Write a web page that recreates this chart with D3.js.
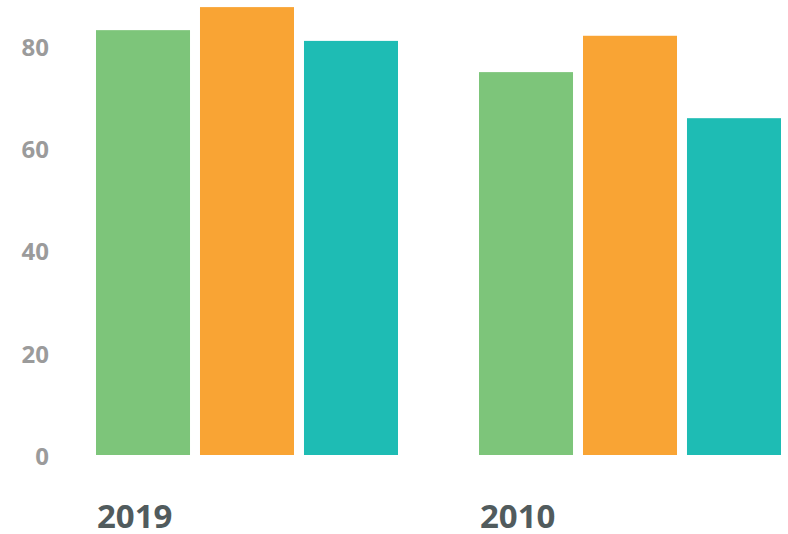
<!DOCTYPE html>
<html>
<head>
<meta charset="utf-8">
<script src="https://cdn.jsdelivr.net/npm/d3@7"></script>
<style>
  body { margin: 0; background: #fff; }
  .y.axis text { font-family: "Open Sans", sans-serif; font-weight: 700; font-size: 24px; fill: #9b9b9b; }
  .x-label { font-family: "Open Sans", sans-serif; font-weight: 700; font-size: 33px; fill: #515b5d; }
</style>
</head>
<body>
<div id="chart"></div>
<script>
var w = 788
var h = 534

// data
var years = ["2019", "2010"]
var series = ["a", "b", "c"]
var colors = ["#7dc57a", "#f9a434", "#1ebcb4"]
var values2019 = [83.0, 87.5, 80.9]
var values2010 = [74.8, 81.9, 65.8]
var yTicks = [0, 20, 40, 60, 80]

var rows = [values2019, values2010]

var svg = d3.select("#chart")
    .append("svg")
    .attr("width", w)
    .attr("height", h)

// scales
var x0 = d3.scaleBand().domain(years).range([96, 781]).paddingInner(0.2115).paddingOuter(0)
var x1 = d3.scaleBand().domain(series).range([0, x0.bandwidth()]).paddingInner(0.096).paddingOuter(0)
var y = d3.scaleLinear().domain([0, 80]).range([455, 45.5])

var yAxis = d3.axisLeft(y).tickValues(yTicks).tickSize(0).tickPadding(0)

var yG = svg.append("g")
    .attr("class", "y axis")
    .attr("transform", "translate(49,2)")
    .call(yAxis)
yG.select(".domain").remove()

var groups = svg.selectAll(".group")
    .data(rows)
    .enter()
    .append("g")
    .attr("class", "group")
    .attr("transform", function(d, i) { return "translate(" + x0(years[i]) + ",0)" })

groups.selectAll("rect")
    .data(function(d) { return d })
    .enter()
    .append("rect")
    .attr("x", function(d, i) { return x1(series[i]) })
    .attr("width", x1.bandwidth())
    .attr("y", function(d) { return y(d) })
    .attr("height", function(d) { return y(0) - y(d) })
    .attr("fill", function(d, i) { return colors[i] })

svg.selectAll(".x-label")
    .data(years)
    .enter()
    .append("text")
    .attr("class", "x-label")
    .attr("x", function(d) { return x0(d) + 1 })
    .attr("y", 528)
    .text(function(d) { return d })
</script>
</body>
</html>
